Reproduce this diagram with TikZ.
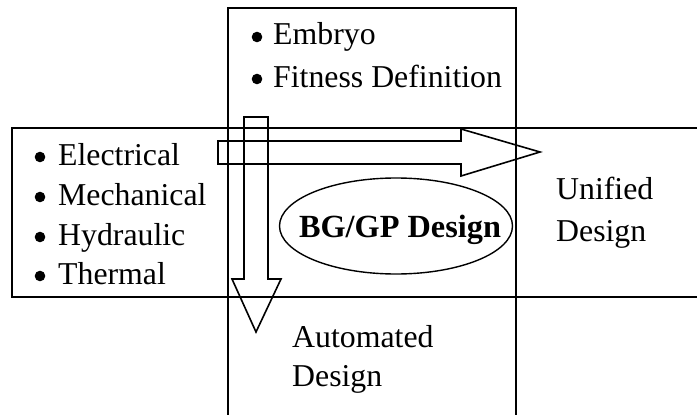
\documentclass[tikz,border=0pt]{standalone}
\usepackage{fontspec}
\setmainfont{Liberation Serif}
\usetikzlibrary{shapes.geometric}
\tikzset{
  band/.style={line width=1.7pt},
  arrowshape/.style={line width=1.6pt, line join=miter},
  txt/.style={anchor=base west, inner sep=0pt, font=\fontsize{31.8}{40}\selectfont},
  bold/.style={font=\fontsize{32.3}{40}\selectfont\bfseries, inner sep=0pt},
  bul/.style={fill=black}
}
\begin{document}
\begin{tikzpicture}[x=1pt,y=-1pt]
\useasboundingbox (0,0) rectangle (697,415);
% bands
\draw[band] (697,128) -- (12,128) -- (12,297) -- (697,297);
\draw[band] (228,415) -- (228,8) -- (516,8) -- (516,415);
% horizontal arrow
\draw[arrowshape] (218,141) -- (461,141) -- (461,129) -- (540,152) -- (461,176) -- (461,164) -- (218,164) -- cycle;
% vertical arrow
\draw[arrowshape] (244,117) -- (268,117) -- (268,279) -- (281,279) -- (256,332) -- (232,279) -- (244,279) -- cycle;
% ellipse
\node[ellipse, draw, line width=1.4pt, minimum width=233pt, minimum height=96pt, inner sep=0pt] (bg) at (396,226) {};
\node[bold, anchor=base] (bgt) at (400,237) {BG/GP Design};
% top list
\fill[bul] (257,37) circle (5.3);
\fill[bul] (257,79) circle (5.3);
\node[txt] (e1) at (273,45) {Embryo};
\node[txt] (e2) at (273,87) {Fitness Definition};
% left list
\fill[bul] (40,157) circle (5.3);
\fill[bul] (40,197) circle (5.3);
\fill[bul] (40,237) circle (5.3);
\fill[bul] (40,276) circle (5.3);
\node[txt] (l1) at (58,165) {Electrical};
\node[txt] (l2) at (58,205) {Mechanical};
\node[txt] (l3) at (58,245) {Hydraulic};
\node[txt] (l4) at (58,284) {Thermal};
% outputs
\node[txt] (u1) at (556,199) {Unified};
\node[txt] (u2) at (556,241) {Design};
\node[txt] (a1) at (292,347) {Automated};
\node[txt] (a2) at (292,386) {Design};
\end{tikzpicture}
\end{document}
